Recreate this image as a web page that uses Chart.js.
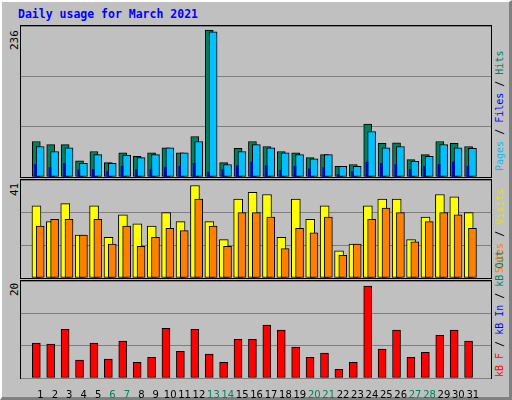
<!DOCTYPE html>
<html><head><meta charset="utf-8">
<script src="https://cdn.jsdelivr.net/npm/chart.js@4/dist/chart.umd.min.js"></script>
<style>
body{margin:0;background:#fff}
#frame{position:absolute;left:0;top:0;width:512px;height:400px;box-sizing:border-box;background:#c0c0c0;border-top:2px solid #fff;border-left:2px solid #fff;border-right:3px solid #808080;border-bottom:3px solid #808080}
.panel{position:absolute;left:20px;width:472px;box-sizing:border-box;border:1px solid #000}
canvas{position:absolute}
.t{position:absolute;font-family:"DejaVu Sans Mono",monospace;white-space:nowrap}
.rot{transform-origin:0 0;transform:rotate(-90deg);font-size:10px}
</style></head><body>
<div id="frame"></div>
<div class="t" style="left:18px;top:7px;font-size:11.5px;font-weight:bold;color:#0000ff">Daily usage for March 2021</div>
<div class="panel" style="top:25px;height:153px"></div>
<div class="panel" style="top:179px;height:100px"></div>
<div class="panel" style="top:280px;height:99px"></div>
<canvas id="c1" style="left:21px;top:26px;width:470px;height:151px"></canvas>
<canvas id="c2" style="left:21px;top:180px;width:470px;height:98px"></canvas>
<canvas id="c3" style="left:21px;top:281px;width:470px;height:119px"></canvas>
<div class="t rot" style="left:8px;top:50px;font-size:11px">236</div>
<div class="t rot" style="left:8px;top:196px;font-size:11px">41</div>
<div class="t rot" style="left:8px;top:296px;font-size:11px">20</div>
<div class="t rot" style="left:494px;top:171px"><span style="color:#00c0ff">Pages</span> / <span style="color:#0000ff">Files</span> / <span style="color:#008060">Hits</span></div>
<div class="t rot" style="left:494px;top:273px"><span style="color:#ff8000">Sites</span> / <span style="color:#e0e000">Visits</span></div>
<div class="t rot" style="left:494px;top:377px"><span style="color:#ff0000">kB F</span> / <span style="color:#0000ff">kB In</span> / <span style="color:#008060">kB Out</span></div>
<script>
const days=[1,2,3,4,5,6,7,8,9,10,11,12,13,14,15,16,17,18,19,20,21,22,23,24,25,26,27,28,29,30,31];
const weekend=[6,7,13,14,20,21,27,28];
const hits=[57,52,52,26,41,23,39,33,39,47,39,65,236,23,46,57,49,41,39,31,36,17,20,85,54,55,28,36,57,54,49];
const files=[49,41,47,22,36,22,35,31,36,47,39,57,233,20,41,52,47,39,36,29,36,17,17,73,47,49,25,33,52,47,46];
const pages=[20,15,22,12,12,9,17,12,12,15,17,22,8,12,18,24,18,11,17,13,15,4,9,24,22,20,12,17,20,24,17];
const visits=[32,25,33,19,32,18,28,24,23,29,25,41,25,17,35,38,37,18,35,26,32,12,15,32,35,35,17,27,37,36,29];
const sites=[23,26,26,19,26,15,23,14,18,22,21,35,23,14,29,29,27,13,22,20,27,10,15,26,31,29,16,25,29,28,22];
const kbytes=[7.6,7.4,10.6,3.9,7.6,4.1,8.0,3.4,4.5,10.8,5.8,10.6,5.2,3.4,8.4,8.4,11.5,10.4,6.7,4.5,5.4,1.9,3.4,20,6.3,10.4,4.5,5.6,9.3,10.4,8.0];
const yLabels=[236,41,20];

Chart.defaults.animation=false;
Chart.defaults.font.family='"DejaVu Sans"';
const pts=(arr,off)=>arr.map((v,i)=>({x:days[i]+off,y:v}));
function ds(arr,off,color,w,order,border){
  return {data:pts(arr,off),backgroundColor:color,borderColor:'#000',borderWidth:border,barThickness:w,order:order,borderSkipped:false,grouped:false};
}
function opts(max,showX){
  return {responsive:false,maintainAspectRatio:false,devicePixelRatio:1,
    layout:{padding:0},
    plugins:{legend:{display:false},tooltip:{enabled:false}},
    scales:{
      x:{type:'linear',min:0.174,max:31.74,display:showX,grid:{display:false},border:{display:false},
        afterBuildTicks:s=>{s.ticks=days.map(d=>({value:d}));},
        afterFit:s=>{s.height=showX?22:0;},
        ticks:{autoSkip:false,maxRotation:0,padding:3,font:{size:10},
          color:c=>weekend.includes(c.tick.value)?'#008060':'#000',
          callback:v=>String(v)}},
      y:{min:0,max:max,display:true,border:{display:false},
        grid:{color:'#808080',drawTicks:false,lineWidth:1},
        ticks:{display:false},
        afterFit:s=>{s.width=0;},
        afterBuildTicks:s=>{s.ticks=[{value:0},{value:max/3},{value:2*max/3},{value:max}];}}
    }};
}
function mk(id,w,h,datasets,max,showX){
  const c=document.getElementById(id);c.width=w;c.height=h;
  new Chart(c,{type:'bar',data:{datasets},options:opts(max,showX)});
}
mk('c1',470,151,[ds(hits,-0.29,'#008060',8,3,1),ds(files,-0.02,'#00c0ff',8,2,1),ds(pages,-0.34,'#0000c0',2,1,0)],yLabels[0]*151/147,false);
mk('c2',470,98,[ds(visits,-0.28,'#ffff00',9,2,1),ds(sites,-0.02,'#ff8000',8,1,1)],yLabels[1]*98/92.5,false);
mk('c3',470,119,[ds(kbytes,-0.29,'#ff0000',8,1,1)],yLabels[2]*97/92,true);
</script>
</body></html>
